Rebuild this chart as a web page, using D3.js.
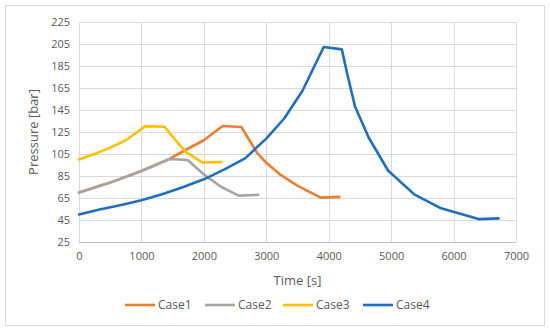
<!DOCTYPE html>
<html><head><meta charset="utf-8">
<script src="https://cdn.jsdelivr.net/npm/d3@7"></script>
<style>body{margin:0;background:#fff}svg{display:block}text{font-family:"Open Sans",sans-serif;fill:#595959}</style>
</head><body><svg id="c" width="550" height="331"></svg>
<script>
const seriesNames = ["Case1","Case2","Case3","Case4"];
const seriesColors = ["#ED7D31","#A5A5A5","#FFC000","#1F6FC0"];
const case1 = [[0,70],[500,79],[1000,89.5],[1450,100.5],[1750,110],[2000,117.5],[2300,130.5],[2600,129.5],[2860,105.5],[3000,97],[3230,86],[3490,76.5],[3870,65.3],[4170,66]];
const case2 = [[0,70],[500,79],[1000,89.5],[1450,100.5],[1740,99.5],[2010,86],[2280,75],[2560,67.2],[2870,67.8]];
const case3 = [[0,100],[250,105],[500,110.8],[750,117.5],[1065,130.3],[1370,129.8],[1590,114.6],[1720,106.5],[1975,97.3],[2280,97.6]];
const case4 = [[0,50],[330,54.5],[660,58.5],[1000,63],[1330,68.5],[1650,74.5],[2000,82],[2330,91],[2660,101],[3000,119],[3290,137.5],[3580,162.5],[3920,202.3],[4210,200.1],[4300,177],[4420,148.5],[4640,120],[4950,90],[5370,68.3],[5800,55.6],[6400,45.8],[6720,46.5]];
const allSeries = [case1, case2, case3, case4];
const xTicks = [0,1000,2000,3000,4000,5000,6000,7000];
const yTicks = [25,45,65,85,105,125,145,165,185,205,225];

const svg = d3.select("#c");
const L=79, R=516, T=22, B=242;
const x = d3.scaleLinear().domain([0,7000]).range([L,R]);
const y = d3.scaleLinear().domain([25,225]).range([B,T]);

svg.append("rect").attr("x",5.5).attr("y",5.5).attr("width",539).attr("height",320)
  .attr("fill","#fff").attr("stroke","#D9D9D9");

// gridlines
const g = svg.append("g");
g.selectAll(".hy").data(yTicks).join("line")
  .attr("x1",L).attr("x2",R).attr("y1",d=>Math.round(y(d))+0.5).attr("y2",d=>Math.round(y(d))+0.5)
  .attr("stroke","#D9D9D9").attr("stroke-width",1);
g.selectAll(".vx").data(xTicks).join("line")
  .attr("y1",T).attr("y2",B).attr("x1",d=>Math.round(x(d))+0.5).attr("x2",d=>Math.round(x(d))+0.5)
  .attr("stroke","#D9D9D9").attr("stroke-width",1);

// axes
const xAxis = d3.axisBottom(x).tickValues(xTicks).tickFormat(d3.format("d")).tickSize(0).tickPadding(10);
const yAxis = d3.axisLeft(y).tickValues(yTicks).tickFormat(d3.format("d")).tickSize(0).tickPadding(9);
const gx = svg.append("g").attr("transform",`translate(0,${B})`).call(xAxis);
const gy = svg.append("g").attr("transform",`translate(${L},0)`).call(yAxis);
[gx,gy].forEach(a=>{a.select(".domain").remove();a.selectAll("text").style("font-size","11px").style("fill","#595959").style("font-family","'Open Sans',sans-serif");});
gx.selectAll("text").attr("dy","0.71em");
svg.append("line").attr("x1",L).attr("x2",R).attr("y1",B+0.5).attr("y2",B+0.5).attr("stroke","#BFBFBF");
svg.append("line").attr("x1",L+0.5).attr("x2",L+0.5).attr("y1",T).attr("y2",B).attr("stroke","#D9D9D9");

// titles
svg.append("text").attr("x",(L+R)/2).attr("y",285).attr("text-anchor","middle").style("font-size","13px").text("Time [s]");
svg.append("text").attr("transform",`translate(38,${(T+B)/2}) rotate(-90)`).attr("text-anchor","middle").style("font-size","13px").text("Pressure [bar]");

// lines
const line = d3.line().x(d=>x(d[0])).y(d=>y(d[1]));
allSeries.forEach((s,i)=>{
  svg.append("path").datum(s).attr("d",line).attr("fill","none")
    .attr("stroke",seriesColors[i]).attr("stroke-width",2.6).attr("stroke-linejoin","round").attr("stroke-linecap","round");
});

// legend
const legX = [125,205,283,363];
const lg = svg.append("g");
seriesNames.forEach((n,i)=>{
  lg.append("line").attr("x1",legX[i]).attr("x2",legX[i]+30).attr("y1",305).attr("y2",305)
    .attr("stroke",seriesColors[i]).attr("stroke-width",2.6);
  lg.append("text").attr("x",legX[i]+33).attr("y",305).attr("dy","0.35em").style("font-size","12px").text(n);
});
</script></body></html>
